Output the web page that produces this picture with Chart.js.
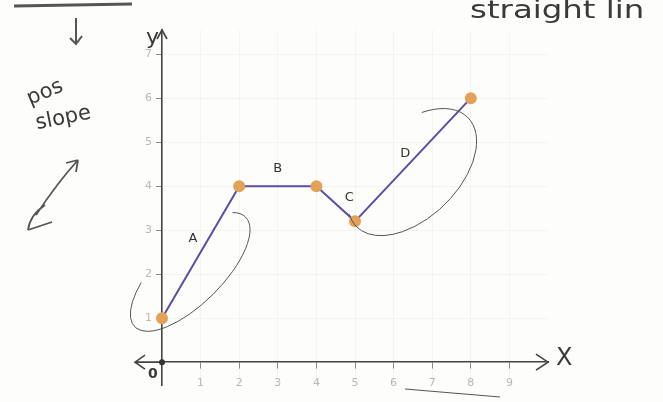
<!DOCTYPE html>
<html>
<head>
<meta charset="utf-8">
<script src="https://cdn.jsdelivr.net/npm/chart.js@4.4.0/dist/chart.umd.min.js"></script>
<style>
  html, body { margin: 0; padding: 0; background: #fdfdfc; }
  #wrap { position: relative; width: 663px; height: 402px; }
</style>
</head>
<body>
<div id="wrap"><canvas id="graph" width="663" height="402"></canvas></div>
<script>
// path points A-B-C-D
const xs = [0, 2, 4, 5, 8];
const ys = [1, 4, 4, 3.2, 6];

// segment names and where they are written
const segNames = ['A', 'B', 'C', 'D'];
const segLabelX = [0.8, 3.0, 4.85, 6.3];
const segLabelY = [2.8, 4.4, 3.75, 4.75];

const xTicks = [1, 2, 3, 4, 5, 6, 7, 8, 9];
const yTicks = [1, 2, 3, 4, 5, 6, 7];

const penColor = '#3a3a3a';

// open loop drawn round a segment, centre given in axis units
function loop(ctx, x, y, cx, cy, a, b, rot, t0, t1) {
  ctx.beginPath();
  ctx.ellipse(x.getPixelForValue(cx), y.getPixelForValue(cy), a, b, rot, t0, t1);
  ctx.stroke();
}

// axes with arrow heads, segment letters and pen notes
const notes = {
  id: 'notes',
  afterDatasetsDraw(chart) {
    const { ctx, scales: { x, y }, chartArea: a } = chart;
    const x0 = x.getPixelForValue(0), y0 = y.getPixelForValue(0);
    const xl = x0 - 27;
    ctx.save();

    // x axis runs a little past the y axis on the left
    ctx.strokeStyle = '#444';
    ctx.lineWidth = 1.6;
    ctx.beginPath();
    ctx.moveTo(xl, y0); ctx.lineTo(x0, y0);
    ctx.moveTo(xl + 10, y0 - 7); ctx.lineTo(xl, y0); ctx.lineTo(xl + 10, y0 + 7);
    ctx.moveTo(a.right - 12, y0 - 8); ctx.lineTo(a.right, y0); ctx.lineTo(a.right - 12, y0 + 8);
    ctx.moveTo(x0 - 5, a.top + 9); ctx.lineTo(x0, a.top); ctx.lineTo(x0 + 5, a.top + 9);
    ctx.stroke();

    // origin dot
    ctx.fillStyle = '#333';
    ctx.beginPath(); ctx.arc(x0, y0, 3, 0, Math.PI * 2); ctx.fill();

    // segment letters
    ctx.fillStyle = '#333';
    ctx.font = '13px "DejaVu Sans"';
    ctx.textAlign = 'center'; ctx.textBaseline = 'middle';
    segNames.forEach((s, i) => {
      ctx.fillText(s, x.getPixelForValue(segLabelX[i]), y.getPixelForValue(segLabelY[i]));
    });

    // loops round A and D
    ctx.strokeStyle = '#555';
    ctx.lineWidth = 1;
    loop(ctx, x, y, 0.73, 2.05, 78, 32, -0.78, -0.4, Math.PI + 1.0);
    loop(ctx, x, y, 6.48, 4.32, 78, 46, -0.77, -0.9, Math.PI + 0.3);

    // handwriting
    ctx.fillStyle = penColor;
    ctx.textAlign = 'left';
    ctx.font = '22px "DejaVu Sans"';
    ctx.fillText('y', x0 - 16, a.top + 8);
    ctx.font = '24px "DejaVu Sans"';
    ctx.fillText('X', a.right + 8, y0 - 3);
    ctx.font = 'bold 14px "DejaVu Sans"';
    ctx.fillText('0', x0 - 14, y0 + 12);

    ctx.font = '21px "DejaVu Sans"';
    ctx.save(); ctx.translate(28, 100); ctx.rotate(-0.4); ctx.fillText('pos', 0, 0); ctx.restore();
    ctx.save(); ctx.translate(36, 124); ctx.rotate(-0.2); ctx.fillText('slope', 0, 0); ctx.restore();
    ctx.save(); ctx.translate(470, 12); ctx.scale(1.35, 1); ctx.font = '24px "DejaVu Sans"';
    ctx.fillText('straight lin', 0, 0); ctx.restore();

    ctx.strokeStyle = '#555';
    ctx.lineWidth = 3;
    ctx.beginPath(); ctx.moveTo(14, 6); ctx.lineTo(132, 4); ctx.stroke();
    ctx.lineWidth = 2;
    ctx.beginPath();
    ctx.moveTo(76, 18); ctx.lineTo(76, 44);
    ctx.moveTo(70, 38); ctx.lineTo(76, 44); ctx.lineTo(82, 36);
    ctx.stroke();
    // double arrow under "pos slope"
    ctx.lineWidth = 1.8;
    ctx.beginPath();
    ctx.moveTo(36, 215); ctx.quadraticCurveTo(58, 182, 78, 160);
    ctx.moveTo(28, 230); ctx.quadraticCurveTo(30, 215, 45, 205);
    ctx.moveTo(28, 230); ctx.lineTo(52, 222);
    ctx.moveTo(78, 160); ctx.lineTo(66, 163);
    ctx.moveTo(78, 160); ctx.lineTo(76, 172);
    ctx.stroke();
    ctx.lineWidth = 1;
    ctx.beginPath(); ctx.moveTo(405, 389); ctx.lineTo(500, 397); ctx.stroke();
    ctx.restore();
  }
};

new Chart(document.getElementById('graph').getContext('2d'), {
  type: 'scatter',
  data: {
    datasets: [{
      data: xs.map((v, i) => ({ x: v, y: ys[i] })),
      showLine: true,
      clip: false,
      borderColor: '#5a4ea6',
      borderWidth: 2,
      pointRadius: 5,
      pointHoverRadius: 5,
      pointBackgroundColor: '#e3a257',
      pointBorderColor: '#e3a257'
    }]
  },
  options: {
    responsive: false,
    animation: false,
    layout: { padding: { left: 135, right: 115, top: 30, bottom: 17 } },
    plugins: { legend: { display: false }, tooltip: { enabled: false } },
    scales: {
      x: {
        type: 'linear',
        min: 0,
        max: 10,
        position: { y: 0 },
        afterFit: s => { s.height = 0; },
        afterBuildTicks: s => { s.ticks = xTicks.map(v => ({ value: v })); },
        ticks: { color: '#b8b8b8', font: { family: 'DejaVu Sans', size: 11 }, padding: 8 },
        grid: { color: 'rgba(0,0,0,0.035)', tickColor: '#888', tickLength: 6 },
        border: { color: '#444', width: 1.6 }
      },
      y: {
        min: -0.52,
        max: 7.55,
        position: 'left',
        afterFit: s => { s.width = 27; },
        afterBuildTicks: s => { s.ticks = yTicks.map(v => ({ value: v })); },
        ticks: { color: '#b8b8b8', font: { family: 'DejaVu Sans', size: 11 }, padding: 4 },
        grid: { color: 'rgba(0,0,0,0.035)', tickColor: '#888', tickLength: 6 },
        border: { color: '#444', width: 1.6 }
      }
    }
  },
  plugins: [notes]
});
</script>
</body>
</html>
